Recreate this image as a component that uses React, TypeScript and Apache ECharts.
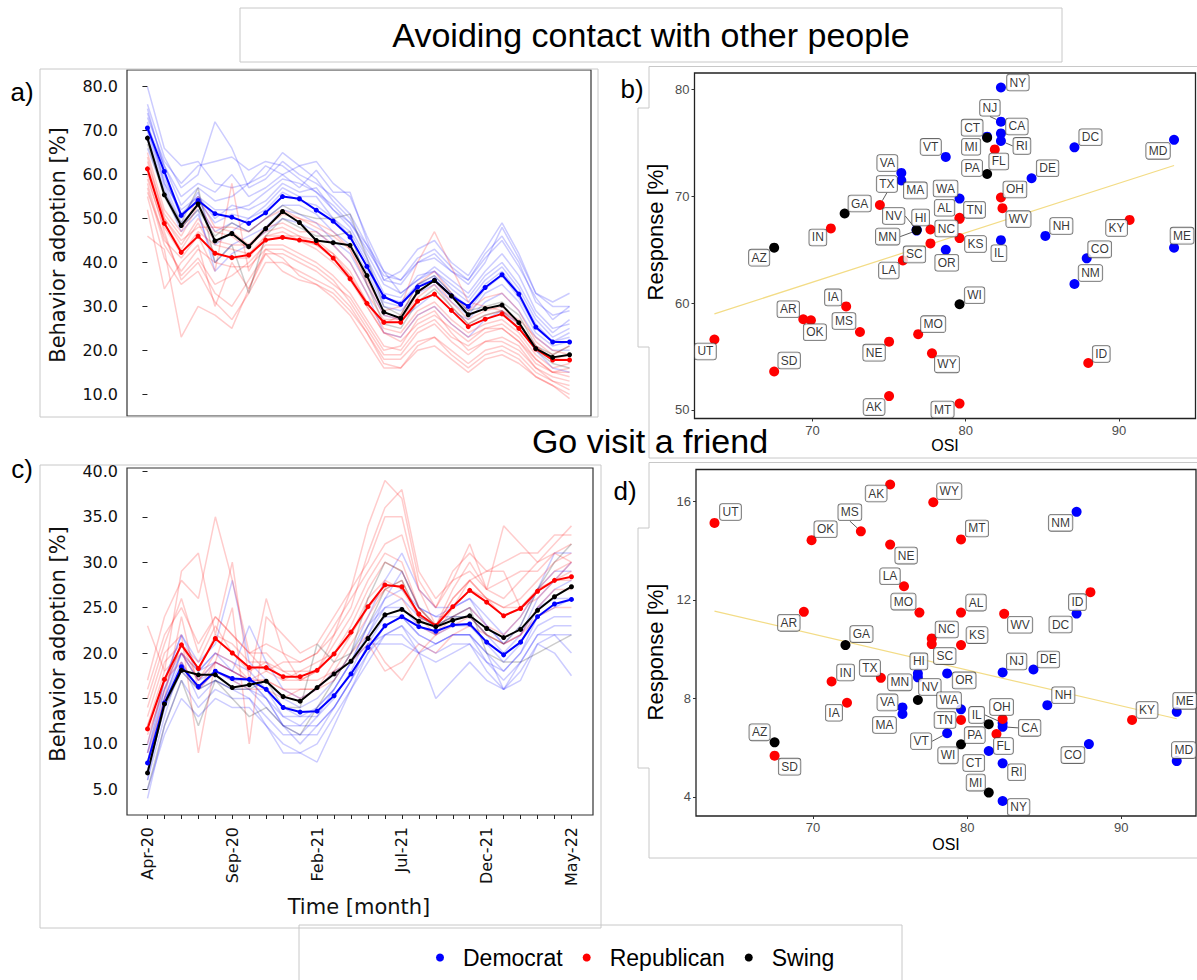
import React, { useEffect, useRef } from 'react';
import * as echarts from 'echarts';

// ---- time axis ----
const months = [
  'Apr-20', 'May-20', 'Jun-20', 'Jul-20', 'Aug-20', 'Sep-20', 'Oct-20', 'Nov-20', 'Dec-20',
  'Jan-21', 'Feb-21', 'Mar-21', 'Apr-21', 'May-21', 'Jun-21', 'Jul-21', 'Aug-21', 'Sep-21',
  'Oct-21', 'Nov-21', 'Dec-21', 'Jan-22', 'Feb-22', 'Mar-22', 'Apr-22', 'May-22',
];
const monthTicks = [0, 5, 10, 15, 20, 25];
const avoidTicks = [10, 20, 30, 40, 50, 60, 70, 80];
const visitTicks = [5, 10, 15, 20, 25, 30, 35, 40];
const osiTicks = [70, 80, 90];
const avoidRespTicks = [50, 60, 70, 80];
const visitRespTicks = [4, 8, 12, 16];

// ---- a) avoiding contact: party means ----
const avoidDem = [70.6, 60.7, 50.7, 54.1, 51.1, 50.3, 48.9, 51.3, 55.0, 54.5, 51.9, 49.4, 45.8, 39.1, 32.2, 30.5, 34.4, 36.0, 32.4, 30.0, 34.3, 37.2, 32.8, 25.3, 21.9, 21.9];
const avoidRep = [61.3, 48.9, 42.3, 46.0, 42.1, 41.1, 41.7, 45.1, 45.7, 45.1, 44.5, 41.0, 36.3, 30.7, 26.4, 26.4, 31.2, 32.8, 29.1, 25.4, 27.1, 28.3, 25.0, 20.3, 17.8, 17.8];
const avoidSwing = [68.3, 55.4, 48.4, 53.3, 44.9, 46.6, 43.6, 47.7, 51.6, 49.1, 45.0, 44.5, 43.9, 37.0, 28.7, 27.3, 33.3, 35.9, 32.4, 28.1, 29.5, 30.3, 26.3, 20.4, 18.4, 19.0];

// a) individual states (faint)
const avoidDemStates = [
  [76, 64, 57, 60, 72, 66, 57, 59, 63, 60, 58, 55, 51, 44, 36, 38, 43, 45, 40, 37, 43, 49, 42, 33, 31, 33],
  [80, 66, 62, 63, 58, 57, 58, 60, 65, 62, 63, 58, 55, 46, 38, 36, 40, 42, 38, 35, 40, 48, 41, 33, 30, 30],
  [74, 62, 55, 58, 56, 60, 55, 57, 60, 57, 61, 56, 56, 45, 36, 35, 40, 41, 38, 36, 41, 45, 39, 32, 27, 30],
  [72, 58, 52, 55, 50, 53, 52, 54, 58, 56, 57, 52, 48, 41, 33, 32, 37, 38, 34, 31, 36, 39, 34, 27, 23, 25],
  [69, 58, 49, 53, 47, 49, 47, 50, 53, 53, 51, 47, 44, 38, 30, 29, 33, 35, 31, 28, 33, 35, 31, 24, 21, 22],
  [66, 56, 47, 51, 40, 44, 46, 48, 52, 51, 49, 45, 42, 35, 28, 27, 30, 33, 29, 27, 31, 33, 29, 23, 20, 20],
  [70, 60, 50, 56, 44, 47, 50, 52, 56, 54, 53, 50, 46, 39, 31, 30, 35, 36, 32, 29, 34, 37, 32, 25, 22, 24],
  [71, 62, 53, 57, 54, 55, 58, 62, 60, 62, 59, 54, 50, 42, 35, 33, 36, 38, 35, 32, 37, 40, 35, 28, 24, 27],
  [68, 57, 48, 52, 38, 42, 44, 47, 50, 49, 47, 44, 40, 33, 24, 23, 28, 30, 26, 23, 27, 29, 26, 20, 16, 15],
  [73, 63, 58, 62, 63, 64, 61, 63, 62, 59, 56, 53, 49, 43, 37, 36, 41, 43, 39, 36, 42, 46, 40, 31, 28, 29],
  [75, 61, 51, 54, 49, 51, 50, 53, 57, 55, 55, 50, 47, 40, 32, 31, 35, 37, 33, 30, 35, 38, 33, 26, 22, 23],
  [70, 59, 51, 55, 52, 52, 53, 56, 59, 58, 56, 52, 49, 44, 38, 33, 36, 39, 36, 33, 38, 42, 37, 29, 25, 26],
];
const avoidRepStates = [
  [46, 43, 23, 30, 28, 25, 34, 42, 38, 36, 35, 32, 28, 22, 16, 16, 20, 21, 18, 15, 18, 19, 17, 14, 12, 9],
  [52, 34, 40, 44, 30, 40, 34, 43, 41, 37, 35, 33, 29, 24, 18, 18, 22, 23, 20, 17, 20, 21, 19, 15, 13, 11],
  [56, 46, 37, 41, 35, 37, 40, 44, 44, 42, 40, 37, 33, 27, 21, 20, 25, 27, 23, 21, 24, 25, 22, 17, 15, 14],
  [59, 48, 42, 47, 44, 43, 42, 46, 46, 46, 45, 42, 37, 31, 25, 24, 29, 31, 27, 24, 26, 27, 24, 19, 16, 17],
  [62, 50, 44, 50, 45, 44, 44, 48, 49, 47, 47, 44, 40, 33, 27, 27, 32, 35, 30, 26, 28, 29, 26, 21, 18, 18],
  [58, 45, 41, 46, 38, 58, 38, 45, 46, 45, 43, 40, 36, 30, 24, 23, 28, 30, 26, 23, 25, 26, 23, 18, 15, 15],
  [64, 50, 45, 48, 48, 47, 44, 47, 48, 46, 44, 42, 38, 31, 26, 28, 35, 38, 33, 29, 32, 33, 29, 22, 19, 21],
  [60, 47, 36, 40, 33, 30, 36, 42, 42, 40, 38, 35, 32, 26, 20, 21, 27, 29, 24, 20, 22, 23, 21, 16, 13, 12],
  [63, 51, 46, 53, 47, 46, 43, 48, 51, 50, 48, 46, 43, 36, 29, 30, 40, 47, 39, 31, 30, 29, 27, 23, 20, 19],
  [57, 44, 38, 43, 40, 39, 39, 43, 43, 41, 39, 36, 31, 25, 19, 19, 24, 26, 22, 19, 22, 22, 20, 16, 14, 13],
  [61, 49, 43, 49, 42, 41, 41, 46, 47, 45, 44, 41, 37, 30, 24, 22, 26, 28, 25, 22, 25, 25, 22, 18, 15, 16],
  [55, 41, 35, 38, 31, 27, 33, 40, 40, 38, 36, 34, 30, 24, 17, 16, 21, 23, 19, 16, 19, 20, 18, 14, 12, 10],
  [65, 52, 47, 55, 48, 48, 47, 50, 52, 50, 49, 47, 43, 35, 28, 27, 33, 36, 31, 27, 29, 30, 26, 21, 18, 19],
];
const avoidSwingStates = [
  [68, 56, 49, 57, 40, 44, 33, 46, 50, 48, 46, 46, 47, 35, 26, 25, 31, 34, 30, 26, 28, 29, 25, 20, 17, 16],
  [67, 55, 48, 52, 46, 49, 47, 50, 53, 51, 50, 50, 51, 41, 30, 28, 35, 37, 33, 29, 30, 31, 28, 21, 19, 21],
];

// ---- c) go visit a friend: party means ----
const visitDem = [7.9, 14.5, 18.5, 16.3, 18.0, 17.2, 17.1, 16.0, 14.0, 13.5, 13.6, 15.3, 17.7, 20.6, 23.0, 24.0, 22.9, 22.4, 23.1, 23.2, 21.2, 19.8, 21.2, 24.0, 25.4, 25.9];
const visitRep = [11.65, 17.1, 20.9, 18.3, 21.6, 20.0, 18.4, 18.4, 17.4, 17.4, 18.1, 19.9, 22.3, 25.1, 27.5, 27.3, 24.3, 23.0, 25.1, 26.9, 25.6, 24.1, 24.9, 26.8, 28.0, 28.4];
const visitSwing = [6.8, 14.4, 18.1, 17.6, 17.6, 16.2, 16.5, 16.9, 15.2, 14.7, 16.2, 17.7, 19.1, 21.6, 24.2, 24.8, 23.5, 22.9, 23.6, 24.1, 22.7, 21.7, 22.6, 24.7, 26.2, 27.3];

const visitDemStates = [
  [4, 12, 17, 14, 16, 15, 15, 12, 9, 9, 8, 12, 16, 19, 22, 22, 20, 19, 20, 21, 18, 16, 17, 21, 20, 17.5],
  [6, 13, 19, 15, 17, 16, 15, 13, 11, 11, 11, 14, 17, 21, 22, 23, 20, 15, 17, 19, 17, 16, 19, 22, 22, 20],
  [8, 15, 20, 17, 19, 18, 17, 15, 13, 13, 13, 15, 18, 22, 25, 26, 24, 23, 24, 24, 22, 20, 22, 25, 26, 26],
  [10, 17, 22, 19, 21, 28, 19, 17, 15, 14, 15, 17, 20, 24, 28, 31, 27, 25, 25, 26, 24, 22, 24, 27, 29, 29],
  [9, 16, 21, 18, 19, 18, 23, 19, 16, 15, 16, 18, 19, 22, 26, 29, 25, 24, 24, 25, 23, 21, 23, 27, 31, 31],
  [7, 14, 18, 16, 18, 17, 17, 15, 12, 10, 12, 14, 17, 20, 23, 24, 22, 21, 22, 22, 19, 17, 19, 22, 23, 23],
  [8, 16, 20, 17, 18, 17, 16, 14, 12, 11, 13, 16, 19, 21, 21, 21, 20, 21, 22, 22, 20, 16, 18, 21, 22, 22],
  [9, 17, 22, 18, 20, 19, 18, 16, 13, 12, 14, 16, 19, 23, 26, 27, 25, 24, 25, 26, 23, 21, 22, 26, 28, 30],
  [6, 15, 20, 18, 20, 18, 17, 16, 14, 13, 14, 16, 19, 23, 25, 25, 23, 22, 23, 23, 21, 19, 21, 25, 27, 28],
  [5, 11, 15, 13, 15, 14, 14, 12, 10, 9, 10, 13, 16, 20, 22, 23, 21, 20, 21, 21, 19, 18, 20, 23, 24, 24],
  [7, 15, 19, 16, 17, 16, 16, 15, 12, 12, 12, 14, 17, 21, 24, 24, 22, 21, 22, 22, 20, 18, 20, 24, 25, 26],
];
const visitRepStates = [
  [23, 18, 29, 31, 22, 30, 17, 26, 20, 17, 18, 22, 25, 31, 36, 38, 29, 26, 28, 32, 27, 34, 32, 30, 32, 34],
  [17, 24, 28, 26, 35, 28, 20, 18, 19, 19, 20, 22, 27, 34, 39, 37, 28, 25, 29, 31, 29, 30, 31, 31, 33, 33],
  [14, 20, 22, 9, 19, 25, 10, 24, 22, 20, 21, 24, 27, 30, 35, 35, 27, 23, 27, 30, 27, 26, 28, 30, 31, 32],
  [12, 18, 20, 18, 22, 21, 19, 19, 18, 18, 19, 20, 22, 26, 28, 27, 24, 23, 25, 27, 26, 25, 26, 28, 30, 31],
  [9, 15, 24, 16, 19, 18, 17, 17, 16, 16, 16, 17, 20, 22, 19, 17, 20, 22, 25, 28, 29, 29, 25, 26, 28, 29],
  [13, 19, 21, 19, 23, 20, 18, 19, 17, 17, 17, 18, 19, 21, 18, 19, 21, 20, 22, 23, 22, 21, 22, 24, 25, 25],
  [10, 17, 19, 16, 18, 17, 16, 16, 15, 16, 16, 18, 21, 24, 27, 28, 24, 22, 24, 25, 23, 22, 24, 27, 28, 28],
  [15, 21, 26, 20, 24, 22, 20, 21, 20, 19, 20, 23, 26, 29, 32, 33, 27, 25, 28, 29, 27, 28, 29, 29, 31, 30],
  [11, 16, 21, 17, 20, 19, 17, 18, 17, 18, 18, 21, 24, 28, 31, 30, 25, 23, 26, 28, 26, 25, 25, 27, 29, 30],
  [16, 22, 25, 21, 24, 22, 20, 20, 18, 17, 18, 20, 23, 27, 30, 29, 25, 23, 26, 28, 26, 24, 25, 27, 28, 30],
  [12, 17, 20, 17, 19, 18, 17, 17, 16, 15, 16, 19, 22, 25, 27, 26, 23, 22, 23, 24, 22, 21, 22, 25, 27, 27],
];
const visitSwingStates = [
  [5, 12, 17, 12, 17, 15, 13, 14, 12, 11, 14, 17, 20, 26, 30, 29, 25, 23, 24, 25, 20, 19, 19, 20, 21, 22],
  [7, 14, 18, 16, 17, 16, 16, 17, 14, 14, 21, 19, 20, 23, 27, 28, 24, 23, 24, 24, 22, 21, 23, 27, 30, 32],
];

// ---- b) / d) states vs OSI ----
const stateCodes = ['AL', 'AK', 'AZ', 'AR', 'CA', 'CO', 'CT', 'DE', 'DC', 'FL', 'GA', 'HI', 'ID', 'IL', 'IN', 'IA', 'KS', 'KY', 'LA', 'ME', 'MD', 'MA', 'MI', 'MN', 'MS', 'MO', 'MT', 'NE', 'NV', 'NH', 'NJ', 'NM', 'NY', 'NC', 'OH', 'OK', 'OR', 'PA', 'RI', 'SC', 'SD', 'TN', 'TX', 'UT', 'VT', 'VA', 'WA', 'WV', 'WI', 'WY'];
const stateParty = ['R', 'R', 'S', 'R', 'D', 'D', 'D', 'D', 'D', 'R', 'S', 'D', 'R', 'D', 'R', 'R', 'R', 'R', 'R', 'D', 'D', 'D', 'S', 'D', 'R', 'R', 'R', 'R', 'S', 'D', 'D', 'D', 'D', 'R', 'R', 'R', 'D', 'S', 'D', 'R', 'R', 'R', 'R', 'R', 'D', 'D', 'D', 'R', 'S', 'R'];
const stateOsi = [79.6, 75.0, 67.5, 69.4, 82.3, 87.9, 81.4, 84.3, 87.1, 81.9, 72.1, 76.8, 88.0, 82.3, 71.2, 72.2, 79.6, 90.7, 75.9, 93.6, 93.6, 75.8, 81.4, 76.8, 73.1, 76.9, 79.6, 75.0, 76.8, 85.2, 82.3, 87.1, 82.3, 77.7, 82.3, 69.9, 78.7, 81.4, 82.3, 77.7, 67.5, 79.6, 74.4, 63.6, 78.7, 75.8, 79.6, 82.4, 79.6, 77.8];
const avoidResponse = [68.0, 51.3, 65.2, 58.5, 75.9, 64.2, 75.6, 71.7, 74.6, 74.4, 68.4, 66.9, 54.4, 65.9, 67.0, 59.7, 66.1, 67.8, 64.0, 65.2, 75.3, 71.5, 75.5, 66.8, 57.3, 57.1, 50.6, 56.4, 66.85, 66.3, 77.0, 61.8, 80.2, 66.9, 69.9, 58.4, 65.0, 72.1, 75.2, 65.6, 53.6, 67.9, 69.2, 56.6, 73.7, 72.2, 69.8, 68.9, 59.9, 55.3];
const visitResponse = [11.48, 16.68, 6.21, 11.51, 6.84, 6.14, 5.86, 9.17, 11.44, 6.55, 10.16, 9.01, 12.31, 7.0, 8.68, 7.82, 10.16, 7.12, 12.55, 7.45, 5.45, 7.36, 4.17, 8.85, 14.78, 11.48, 14.45, 14.24, 7.93, 7.72, 9.05, 15.57, 3.83, 10.43, 7.16, 14.42, 9.01, 6.95, 5.36, 10.2, 5.67, 7.12, 8.83, 15.12, 6.58, 7.63, 7.55, 11.43, 6.13, 15.96];

// fitted lines as drawn (endpoints)
const trendOsi = [63.6, 93.6];
const trendAvoid = [59.0, 72.9];
const trendVisit = [11.54, 7.17];

const partyNames = ['Democrat', 'Republican', 'Swing'];
const partyKeys = ['D', 'R', 'S'];

// ---- layout: label shifts (px) from each point, like ggrepel ----
const shiftB: Record<string, [number, number]> = {
  AL: [-15, -10], AK: [-15, 11], AZ: [-15, 10], AR: [-15, -10], CA: [16, -7], CO: [13, -9],
  CT: [-15, -9], DE: [16, -10], DC: [16, -10], FL: [4, 12], GA: [15, -10], HI: [4, -12],
  ID: [13, -9], IL: [-2, 13], IN: [-13, 9], IA: [-13, -9], KS: [16, 6], KY: [-13, 8],
  LA: [-14, 10], ME: [8, -12], MD: [-16, 11], MA: [14, 10], MI: [-16, 9], MN: [-29, 6],
  MS: [-16, -11], MO: [15, -10], MT: [-17, 6], NE: [-15, 11], NV: [-23, -14], NH: [16, -10],
  NJ: [-11, -14], NM: [16, -11], NY: [17, -5], NC: [16, -1], OH: [14, -8], OK: [4, 12],
  OR: [1, 13], PA: [-15, -6], RI: [21, 5], SC: [-16, 11], SD: [15, -11], TN: [15, -9],
  TX: [7, -21], UT: [-9, 12], VT: [-15, -10], VA: [-14, -10], WA: [-14, -10], WV: [16, 11],
  WI: [15, -9], WY: [15, 11],
};
const shiftD: Record<string, [number, number]> = {
  AL: [15, -10], AK: [-14, 9], AZ: [-15, -10], AR: [-15, 11], CA: [27, 1], CO: [-16, 11],
  CT: [-15, 12], DE: [15, -10], DC: [-16, 11], FL: [7, 12], GA: [16, -11], HI: [1, -12],
  ID: [-13, 10], IL: [-26, -8], IN: [14, -9], IA: [-13, 10], KS: [16, -10], KY: [15, -10],
  LA: [-14, -10], ME: [8, -11], MD: [7, -11], MA: [-18, 11], MI: [-13, -10], MN: [-18, 5],
  MS: [-11, -19], MO: [-16, -11], MT: [16, -11], NE: [16, 11], NV: [12, -13], NH: [16, -10],
  NJ: [14, -11], NM: [-16, 11], NY: [16, 6], NC: [15, -9], OH: [-1, -12], OK: [14, -11],
  OR: [17, 7], PA: [-14, 11], RI: [14, 9], SC: [13, 12], SD: [15, 11], TN: [-16, 0],
  TX: [-11, -10], UT: [16, -11], VT: [-26, 8], VA: [-15, -5], WA: [-12, -9], WV: [16, 11],
  WI: [-13, 11], WY: [16, -11],
};
const leaderB = ['NJ', 'RI', 'TX', 'NV', 'MN'];
const leaderD = ['MS', 'VT', 'CA', 'IL'];

const BLUE = '#0000ff';
const RED = '#ff0000';
const BLACK = '#000000';
const partyColors = [BLUE, RED, BLACK];
const MPL = 'DejaVu Sans';
const GG = 'Liberation Sans';

function faintLines(rows: number[][], color: string, ax: number) {
  return rows.map((row) => ({
    type: 'line',
    xAxisIndex: ax,
    yAxisIndex: ax,
    data: row.map((v, i) => [i, v]),
    symbol: 'none',
    silent: true,
    lineStyle: { color, width: 1.5 },
    z: 1,
  }));
}

function meanLine(row: number[], color: string, ax: number) {
  return {
    type: 'line',
    xAxisIndex: ax,
    yAxisIndex: ax,
    data: row.map((v, i) => [i, v]),
    symbol: 'circle',
    symbolSize: 5,
    showSymbol: true,
    silent: true,
    itemStyle: { color },
    lineStyle: { color, width: 2 },
    z: 3,
  };
}

function scatterPanel(ax: number, resp: number[], trend: number[], shift: Record<string, [number, number]>, leaders: string[]) {
  const out: any[] = [];
  out.push({
    type: 'line',
    xAxisIndex: ax,
    yAxisIndex: ax,
    data: trendOsi.map((x, i) => [x, trend[i]]),
    symbol: 'none',
    silent: true,
    lineStyle: { color: '#f3dc86', width: 1.2 },
    z: 2,
  });
  partyKeys.forEach((key, k) => {
    out.push({
      type: 'scatter',
      name: partyNames[k],
      xAxisIndex: ax,
      yAxisIndex: ax,
      symbolSize: 10,
      itemStyle: { color: partyColors[k], opacity: 1 },
      data: stateCodes
        .map((s, i) => (stateParty[i] === key ? [stateOsi[i], resp[i]] : null))
        .filter((d) => d !== null),
      z: 3,
    });
  });
  out.push({
    type: 'scatter',
    name: 'labels' + ax,
    xAxisIndex: ax,
    yAxisIndex: ax,
    symbolSize: 10,
    silent: true,
    itemStyle: { color: 'rgba(0,0,0,0)' },
    data: stateCodes.map((s, i) => ({
      name: s,
      value: [stateOsi[i], resp[i]],
      labelLine: leaders.includes(s) ? { show: true } : { show: false },
    })),
    label: {
      show: true,
      position: 'inside',
      formatter: '{b}',
      color: '#000',
      fontFamily: GG,
      fontSize: 12,
      lineHeight: 13,
      backgroundColor: '#fff',
      borderColor: '#444',
      borderWidth: 0.8,
      borderRadius: 2.5,
      padding: [2, 2.5, 1, 2.5],
    },
    labelLine: { show: false, lineStyle: { color: '#333', width: 0.8 } },
    labelLayout: (p: any) => {
      const o = shift[stateCodes[p.dataIndex]] || [0, 0];
      return { dx: o[0], dy: o[1] };
    },
    z: 6,
  });
  return out;
}

function buildOption(): any {
  const series: any[] = [
    ...faintLines(avoidDemStates, 'rgba(0,0,255,0.2)', 0),
    ...faintLines(avoidRepStates, 'rgba(255,0,0,0.2)', 0),
    ...faintLines(avoidSwingStates, 'rgba(0,0,0,0.2)', 0),
    meanLine(avoidDem, BLUE, 0),
    meanLine(avoidRep, RED, 0),
    meanLine(avoidSwing, BLACK, 0),
    ...faintLines(visitDemStates, 'rgba(0,0,255,0.2)', 2),
    ...faintLines(visitRepStates, 'rgba(255,0,0,0.2)', 2),
    ...faintLines(visitSwingStates, 'rgba(0,0,0,0.2)', 2),
    meanLine(visitDem, BLUE, 2),
    meanLine(visitRep, RED, 2),
    meanLine(visitSwing, BLACK, 2),
    ...scatterPanel(1, avoidResponse, trendAvoid, shiftB, leaderB),
    ...scatterPanel(3, visitResponse, trendVisit, shiftD, leaderD),
  ];

  const mplY = (grid: number, min: number, max: number, ticks: number[]) => ({
    type: 'value', gridIndex: grid, min, max,
    axisLine: { show: false },
    splitLine: { show: false },
    axisTick: { show: true, customValues: ticks, length: 5, lineStyle: { color: '#222' } },
    axisLabel: { customValues: ticks, formatter: (v: number) => v.toFixed(1), fontFamily: MPL, fontSize: 16, color: '#111', margin: 9 },
  });
  const ggAxis = (grid: number, min: number, max: number, ticks: number[], isX: boolean) => ({
    type: 'value', gridIndex: grid, min, max,
    axisLine: { show: false },
    splitLine: { show: false },
    axisTick: { show: true, customValues: ticks, length: 3, lineStyle: { color: '#333' } },
    axisLabel: { customValues: ticks, fontFamily: GG, fontSize: 13, color: '#4d4d4d', margin: isX ? 5 : 5 },
  });

  const frame = { show: true, borderColor: '#333', borderWidth: 1.2, backgroundColor: 'transparent' };
  const box = { fill: 'none', stroke: '#c8c8c8', lineWidth: 1 };

  return {
    animation: false,
    backgroundColor: '#fff',
    grid: [
      { left: 127, top: 70, width: 464, height: 346, ...frame },
      { left: 694.5, top: 73, width: 501, height: 345.5, ...frame, borderColor: '#222', borderWidth: 1.3 },
      { left: 127, top: 468, width: 466, height: 347, ...frame },
      { left: 696, top: 469.5, width: 500, height: 346.5, ...frame, borderColor: '#222', borderWidth: 1.3 },
    ],
    xAxis: [
      { type: 'value', gridIndex: 0, min: -1.21, max: 26.27, axisLine: { show: false }, axisTick: { show: false }, axisLabel: { show: false }, splitLine: { show: false } },
      ggAxis(1, 62.3, 95.0, osiTicks, true),
      {
        type: 'value', gridIndex: 2, min: -1.21, max: 26.27,
        axisLine: { show: false },
        splitLine: { show: false },
        axisTick: { show: true, customValues: months.map((m, i) => i), length: 4, lineStyle: { color: '#222' } },
        axisLabel: { customValues: monthTicks, formatter: (v: number) => months[Math.round(v)], rotate: 90, fontFamily: MPL, fontSize: 16, color: '#111', margin: 12 },
      },
      ggAxis(3, 62.4, 94.85, osiTicks, true),
    ],
    yAxis: [
      mplY(0, 5.06, 83.8, avoidTicks),
      ggAxis(1, 49.2, 81.56, avoidRespTicks, false),
      mplY(2, 2.17, 40.37, visitTicks),
      ggAxis(3, 3.22, 17.29, visitRespTicks, false),
    ],
    legend: {
      data: partyNames,
      left: 431,
      top: 941,
      icon: 'circle',
      itemWidth: 8,
      itemHeight: 8,
      itemGap: 20,
      selectedMode: false,
      textStyle: { fontFamily: GG, fontSize: 23, color: '#000', padding: [0, 0, 0, 14] },
    },
    graphic: [
      { type: 'rect', shape: { x: 240, y: 8, width: 822, height: 54 }, style: box, silent: true },
      { type: 'rect', shape: { x: 40, y: 69, width: 558, height: 348 }, style: box, silent: true },
      { type: 'rect', shape: { x: 40, y: 465, width: 561, height: 463 }, style: box, silent: true },
      { type: 'rect', shape: { x: 299, y: 925, width: 603, height: 60 }, style: box, silent: true },
      {
        type: 'polyline', silent: true, style: box,
        shape: { points: [[1197, 66.5], [649, 66.5], [649, 108], [638, 108], [638, 347], [649, 347], [649, 458], [1197, 458]] },
      },
      {
        type: 'polyline', silent: true, style: box,
        shape: { points: [[1197, 462.5], [649, 462.5], [649, 528], [638, 528], [638, 768], [649, 768], [649, 858], [1197, 858]] },
      },
      { type: 'text', x: 651, y: 35, silent: true, style: { text: 'Avoiding contact with other people', fontFamily: GG, fontSize: 34, fill: '#000', align: 'center', verticalAlign: 'middle' } },
      { type: 'text', x: 650, y: 441, silent: true, style: { text: 'Go visit a friend', fontFamily: GG, fontSize: 34, fill: '#000', align: 'center', verticalAlign: 'middle' } },
      { type: 'text', x: 22, y: 92, silent: true, style: { text: 'a)', fontFamily: GG, fontSize: 26, fill: '#000', align: 'center', verticalAlign: 'middle' } },
      { type: 'text', x: 632, y: 89, silent: true, style: { text: 'b)', fontFamily: GG, fontSize: 26, fill: '#000', align: 'center', verticalAlign: 'middle' } },
      { type: 'text', x: 22, y: 469, silent: true, style: { text: 'c)', fontFamily: GG, fontSize: 26, fill: '#000', align: 'center', verticalAlign: 'middle' } },
      { type: 'text', x: 625, y: 491, silent: true, style: { text: 'd)', fontFamily: GG, fontSize: 26, fill: '#000', align: 'center', verticalAlign: 'middle' } },
      { type: 'text', x: 58, y: 245, rotation: Math.PI / 2, silent: true, style: { text: 'Behavior adoption [%]', fontFamily: MPL, fontSize: 21, fill: '#111', align: 'center', verticalAlign: 'middle' } },
      { type: 'text', x: 58, y: 644, rotation: Math.PI / 2, silent: true, style: { text: 'Behavior adoption [%]', fontFamily: MPL, fontSize: 21, fill: '#111', align: 'center', verticalAlign: 'middle' } },
      { type: 'text', x: 359, y: 907, silent: true, style: { text: 'Time [month]', fontFamily: MPL, fontSize: 21, fill: '#111', align: 'center', verticalAlign: 'middle' } },
      { type: 'text', x: 655, y: 232, rotation: Math.PI / 2, silent: true, style: { text: 'Response [%]', fontFamily: GG, fontSize: 22, fill: '#000', align: 'center', verticalAlign: 'middle' } },
      { type: 'text', x: 655, y: 652, rotation: Math.PI / 2, silent: true, style: { text: 'Response [%]', fontFamily: GG, fontSize: 22, fill: '#000', align: 'center', verticalAlign: 'middle' } },
      { type: 'text', x: 945, y: 445, silent: true, style: { text: 'OSI', fontFamily: GG, fontSize: 16, fill: '#000', align: 'center', verticalAlign: 'middle' } },
      { type: 'text', x: 946, y: 844, silent: true, style: { text: 'OSI', fontFamily: GG, fontSize: 16, fill: '#000', align: 'center', verticalAlign: 'middle' } },
    ],
    series,
  };
}

export default function App() {
  const ref = useRef<HTMLDivElement>(null);

  useEffect(() => {
    if (!ref.current) return;
    const chart = echarts.init(ref.current, undefined, { renderer: 'svg' });
    chart.setOption(buildOption());
    return () => {
      chart.dispose();
    };
  }, []);

  return (
    <div
      ref={ref}
      style={{ position: 'absolute', left: 0, top: 0, width: 1197, height: 980, background: '#fff' }}
    />
  );
}
